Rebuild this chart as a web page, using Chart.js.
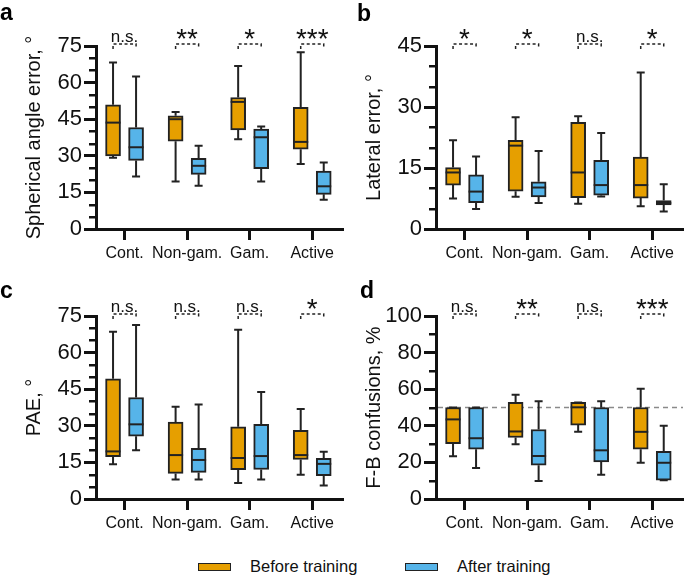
<!DOCTYPE html>
<html>
<head>
<meta charset="utf-8">
<script src="https://cdn.jsdelivr.net/npm/chart.js@4.4.0/dist/chart.umd.min.js"></script>
<style>
  body { margin: 0; background: #fff; }
  #wrap { position: relative; width: 685px; height: 577px; overflow: hidden; font-family: 'Liberation Sans', Arial, sans-serif; color: #111; }
  canvas { position: absolute; }
  .swatch { position: absolute; top: 563px; width: 33px; height: 8px; box-sizing: border-box; border: 1.5px solid #222; }
  .legend-text { position: absolute; top: 557px; font-size: 16.5px; line-height: 18px; white-space: nowrap; }
</style>
</head>
<body>
<div id="wrap">
  <canvas id="chartA" width="345" height="270" style="left:0;top:0"></canvas>
  <canvas id="chartB" width="345" height="270" style="left:340px;top:0"></canvas>
  <canvas id="chartC" width="345" height="270" style="left:0;top:270px"></canvas>
  <canvas id="chartD" width="345" height="270" style="left:340px;top:270px"></canvas>
  <div class="swatch" style="left:198px;background:#E69F00"></div>
  <div class="legend-text" style="left:250px">Before training</div>
  <div class="swatch" style="left:405px;background:#56B4E9"></div>
  <div class="legend-text" style="left:457px">After training</div>
</div>
<script>
const groups = ['Cont.', 'Non-gam.', 'Gam.', 'Active'];

// each box: [min, q1, median, q3, max]
const sphericalBefore = [[29.2, 30, 43.6, 50.9, 68.2], [19.5, 36, 45, 46.4, 48], [36.8, 40.6, 52.1, 53.9, 66.8], [26.6, 32.7, 35.7, 49.9, 72.4]];
const sphericalAfter = [[21.5, 28.1, 33.5, 41.6, 62.5], [17.7, 22.4, 25.9, 29, 34.1], [19.5, 24.7, 37.6, 40.9, 42], [12, 14.2, 17.5, 23.7, 27.3]];
const lateralBefore = [[7.5, 10.8, 13.9, 15.1, 21.8], [7.9, 9.3, 20.5, 21.8, 27.5], [6.2, 7.7, 13.9, 26.2, 27.7], [5.6, 7.6, 10.8, 17.7, 38.5]];
const lateralAfter = [[4.9, 6.5, 9.2, 13.3, 17.8], [6.4, 7.9, 10.2, 11.6, 19.2], [8.0, 8.3, 10.8, 16.9, 23.6], [4.3, 5.9, 6.4, 7.0, 11.0]];
const paeBefore = [[14.2, 17.3, 19.5, 49.3, 68.5], [8, 10.5, 18, 31.5, 37.8], [6.6, 12, 16.8, 29.6, 69.4], [9.9, 16.2, 18, 28.1, 36.9]];
const paeAfter = [[20, 25.7, 30.6, 41.6, 71.3], [8, 10.9, 16, 20.8, 38.7], [8, 12.1, 17.6, 30.6, 43.9], [5.5, 9.6, 14.4, 16.7, 19.4]];
const fbBefore = [[23.3, 30.3, 43.5, 50, 50], [29.9, 33.6, 36.9, 52.8, 56.9], [36.7, 40.4, 50.1, 52.8, 52.8], [19.8, 27.2, 36.7, 50, 60.2]];
const fbAfter = [[16.9, 27.2, 33.2, 50, 50], [9.9, 18.5, 23.5, 38, 53.4], [13.2, 20.2, 26.6, 50, 53.4], [10.3, 10.3, 19.8, 26.1, 40]];

const sigSpherical = ['n.s.', '**', '*', '***'];
const sigLateral = ['*', '*', 'n.s.', '*'];
const sigPae = ['n.s.', 'n.s.', 'n.s.', '*'];
const sigFb = ['n.s.', '**', 'n.s.', '***'];

const ticksAngle = [0, 15, 30, 45, 60, 75];
const ticksLateral = [0, 15, 30, 45];
const ticksPercent = [0, 20, 40, 60, 80, 100];

const ORANGE = '#E69F00';
const BLUE = '#56B4E9';
const EDGE = '#222';
const INK = '#111';
const FAMILY = "'Liberation Sans', Arial, sans-serif";
const SHIFT = 0.184;
const X_MIN = -0.4565;
const X_MAX = 3.492;

const boxPlugin = {
  id: 'boxes',
  beforeDatasetsDraw(chart, args, opts) {
    const { ctx, chartArea, scales: { y } } = chart;
    ctx.save();
    if (opts.refLine != null) {
      const yy = y.getPixelForValue(opts.refLine);
      ctx.strokeStyle = '#8a8a8a';
      ctx.lineWidth = 1.5;
      ctx.setLineDash([5, 4]);
      ctx.beginPath();
      ctx.moveTo(chartArea.left + 2, yy);
      ctx.lineTo(chartArea.right, yy);
      ctx.stroke();
      ctx.setLineDash([]);
    }
    // whiskers
    ctx.strokeStyle = EDGE;
    ctx.lineWidth = 2;
    chart.data.datasets.forEach((ds, di) => {
      const meta = chart.getDatasetMeta(di);
      ds.stats.forEach((s, i) => {
        const x = meta.data[i].x;
        const yMin = y.getPixelForValue(s[0]);
        const yQ1 = y.getPixelForValue(s[1]);
        const yQ3 = y.getPixelForValue(s[3]);
        const yMax = y.getPixelForValue(s[4]);
        ctx.beginPath();
        ctx.moveTo(x, yQ1); ctx.lineTo(x, yMin);
        ctx.moveTo(x - 4, yMin); ctx.lineTo(x + 4, yMin);
        ctx.moveTo(x, yQ3); ctx.lineTo(x, yMax);
        ctx.moveTo(x - 4, yMax); ctx.lineTo(x + 4, yMax);
        ctx.stroke();
      });
    });
    ctx.restore();
  },
  afterDatasetsDraw(chart) {
    const { ctx, scales: { y } } = chart;
    ctx.save();
    ctx.strokeStyle = EDGE;
    ctx.lineWidth = 2;
    chart.data.datasets.forEach((ds, di) => {
      const meta = chart.getDatasetMeta(di);
      ds.stats.forEach((s, i) => {
        const bar = meta.data[i];
        const ym = y.getPixelForValue(s[2]);
        ctx.beginPath();
        ctx.moveTo(bar.x - bar.width / 2, ym);
        ctx.lineTo(bar.x + bar.width / 2, ym);
        ctx.stroke();
      });
    });
    ctx.restore();
  },
  afterDraw(chart, args, opts) {
    const { ctx, chartArea, scales: { x, y } } = chart;
    ctx.save();
    // minor y ticks
    ctx.strokeStyle = INK;
    ctx.lineWidth = 2.5;
    for (let v = opts.minorStep; v < y.max; v += opts.minorStep) {
      if (Math.abs(v / opts.majorStep - Math.round(v / opts.majorStep)) < 1e-6) continue;
      const yy = Math.round(y.getPixelForValue(v)) + 0.25;
      ctx.beginPath();
      ctx.moveTo(chartArea.left - 7, yy);
      ctx.lineTo(chartArea.left, yy);
      ctx.stroke();
    }
    // significance brackets
    opts.sig.forEach((label, i) => {
      const x1 = x.getPixelForValue(i - SHIFT);
      const x2 = x.getPixelForValue(i + SHIFT);
      const yb = chartArea.top - 2;
      const yt = chartArea.top + 3;
      ctx.strokeStyle = EDGE;
      ctx.lineWidth = 1.5;
      ctx.setLineDash([3, 2.5]);
      ctx.beginPath();
      ctx.moveTo(x1, yt); ctx.lineTo(x1, yb); ctx.lineTo(x2, yb); ctx.lineTo(x2, yt);
      ctx.stroke();
      ctx.setLineDash([]);
      ctx.fillStyle = INK;
      ctx.textAlign = 'center';
      ctx.textBaseline = 'alphabetic';
      if (label === 'n.s.') {
        ctx.font = `17px ${FAMILY}`;
        ctx.fillText(label, (x1 + x2) / 2, chartArea.top - 4);
      } else {
        ctx.font = `28px ${FAMILY}`;
        ctx.fillText(label, (x1 + x2) / 2, chartArea.top + 2);
      }
    });
    // panel letter
    ctx.font = `bold 23px ${FAMILY}`;
    ctx.textAlign = 'left';
    ctx.fillStyle = '#000';
    ctx.fillText(opts.letter, opts.letterX, opts.letterY);
    ctx.restore();
  }
};

function makeDataset(label, stats, shift, color) {
  return {
    label,
    stats,
    data: stats.map((s, i) => ({ x: i + shift, y: [s[1], s[3]] })),
    backgroundColor: color,
    borderColor: EDGE,
    borderWidth: 2,
    borderSkipped: false,
    barThickness: 15,
    grouped: false
  };
}

function makePanel(id, cfg) {
  return new Chart(document.getElementById(id), {
    type: 'bar',
    data: {
      datasets: [
        makeDataset('Before training', cfg.before, -SHIFT, ORANGE),
        makeDataset('After training', cfg.after, SHIFT, BLUE)
      ]
    },
    options: {
      responsive: false,
      animation: false,
      devicePixelRatio: 1,
      layout: { padding: { top: 46, left: 0, right: 2, bottom: 0 } },
      plugins: {
        legend: { display: false },
        tooltip: { enabled: false },
        boxes: {
          sig: cfg.sig,
          refLine: cfg.refLine,
          majorStep: cfg.majorStep,
          minorStep: cfg.minorStep,
          letter: cfg.letter,
          letterX: cfg.letterX,
          letterY: cfg.letterY
        }
      },
      scales: {
        x: {
          type: 'linear',
          min: X_MIN,
          max: X_MAX,
          offset: false,
          afterBuildTicks: (scale) => {
            scale.ticks = groups.map((g, i) => ({ value: i }));
          },
          afterFit: (scale) => { scale.height = 41; },
          ticks: {
            callback: (v) => groups[v],
            color: INK,
            font: { size: 16, family: FAMILY },
            padding: 4,
            maxRotation: 0,
            autoSkip: false
          },
          grid: { offset: false, drawOnChartArea: false, tickLength: 11, tickWidth: 3, tickColor: INK },
          border: { width: 3, color: INK }
        },
        y: {
          min: 0,
          max: cfg.ticks[cfg.ticks.length - 1],
          afterBuildTicks: (scale) => {
            scale.ticks = cfg.ticks.map((v) => ({ value: v }));
          },
          afterFit: (scale) => { scale.width = 96; },
          ticks: { color: INK, font: { size: 22, family: FAMILY }, padding: 2 },
          grid: { drawOnChartArea: false, tickLength: 12, tickWidth: 3, tickColor: INK },
          border: { width: 3, color: INK },
          title: {
            display: true,
            text: cfg.title,
            color: INK,
            font: { size: 20, family: FAMILY },
            padding: { top: 22, bottom: 0 }
          }
        }
      }
    },
    plugins: [boxPlugin]
  });
}

makePanel('chartA', {
  before: sphericalBefore, after: sphericalAfter, sig: sigSpherical,
  ticks: ticksAngle, majorStep: 15, minorStep: 5,
  title: 'Spherical angle error, °', letter: 'a', letterX: 0, letterY: 20
});
makePanel('chartB', {
  before: lateralBefore, after: lateralAfter, sig: sigLateral,
  ticks: ticksLateral, majorStep: 15, minorStep: 5,
  title: 'Lateral error, °', letter: 'b', letterX: 17, letterY: 21
});
makePanel('chartC', {
  before: paeBefore, after: paeAfter, sig: sigPae,
  ticks: ticksAngle, majorStep: 15, minorStep: 5,
  title: 'PAE, °', letter: 'c', letterX: 0, letterY: 28
});
makePanel('chartD', {
  before: fbBefore, after: fbAfter, sig: sigFb, refLine: 50,
  ticks: ticksPercent, majorStep: 20, minorStep: 10,
  title: 'F-B confusions, %', letter: 'd', letterX: 20, letterY: 28
});
</script>
</body>
</html>
